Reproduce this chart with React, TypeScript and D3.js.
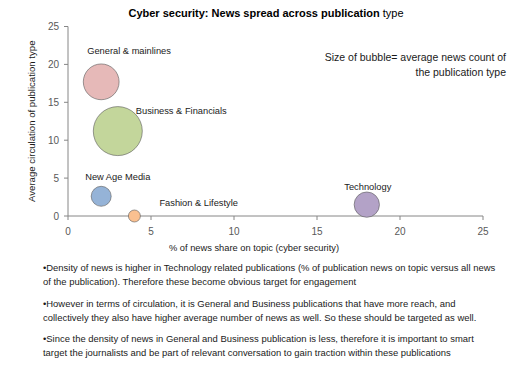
import React from 'react';
import * as d3 from 'd3';

const categories = ['General & mainlines', 'Business & Financials', 'New Age Media', 'Fashion & Lifestyle', 'Technology'];
const newsShare = [2, 3, 2, 4, 18];
const circulation = [17.7, 11.2, 2.6, 0, 1.5];
const newsCount = [32, 60, 10, 3.6, 16];
const xTicks = [0, 5, 10, 15, 20, 25];
const yTicks = [0, 5, 10, 15, 20, 25];

const bulletLines = [
  ['•Density of news is higher in Technology related publications (% of publication news on topic versus all news',
    'of the publication). Therefore these become obvious target for engagement'],
  ['•However  in terms of circulation, it is General and Business publications that have more reach,  and',
    'collectively they also have higher average number of news as well. So these should be targeted as well.'],
  ['•Since the density of news in General and Business publication is less, therefore it is important to smart',
    'target the journalists and be part of relevant conversation to gain traction within these publications'],
];

const COLORS = ['#e6b9b8', '#c3d69b', '#95b3d7', '#fac090', '#b3a2c7'];
// label placement relative to bubble centre (manually nudged, like the original)
const LABEL_OFFSET = [[-14, -28], [18, -17], [-16, -16], [25, -10], [1, -15]];
const LABEL_ANCHOR = ['start', 'start', 'start', 'start', 'middle'];

const FONT = 'Liberation Sans, Arial, sans-serif';

const App = () => {
  const width = 522;
  const height = 391;
  const margin = { top: 26.5, right: 39, bottom: 175, left: 68 };

  const x = d3.scaleLinear().domain([0, 25]).range([margin.left, width - margin.right]);
  const y = d3.scaleLinear().domain([0, 25]).range([height - margin.bottom, margin.top]);
  const r = d3.scaleSqrt().domain([0, d3.max(newsCount) as number]).range([0, 24.5]);

  const axisColor = '#868686';
  const tickColor = '#595959';
  const textColor = '#1a1a1a';

  return (
    <div style={{ position: 'absolute', left: 0, top: 0 }}>
      <svg width={width} height={height} style={{ display: 'block', background: '#fff' }} fontFamily={FONT}>
        <text x={266} y={17} textAnchor="middle" fontSize={11} fill="#000">
          <tspan fontWeight="bold">Cyber security: News spread across publication</tspan>
          <tspan> type</tspan>
        </text>

        {/* y axis */}
        <line x1={x(0)} x2={x(0)} y1={y(25)} y2={y(0)} stroke={axisColor} strokeWidth={1} />
        {yTicks.map(t => (
          <g key={'y' + t}>
            <line x1={x(0) - 4} x2={x(0)} y1={y(t)} y2={y(t)} stroke={axisColor} />
            <text x={x(0) - 9} y={y(t)} dy="0.35em" textAnchor="end" fontSize={10} fill={tickColor}>{t}</text>
          </g>
        ))}

        {/* x axis */}
        <line x1={x(0)} x2={x(25)} y1={y(0)} y2={y(0)} stroke={axisColor} strokeWidth={1} />
        {xTicks.map(t => (
          <g key={'x' + t}>
            <line x1={x(t)} x2={x(t)} y1={y(0)} y2={y(0) + 4} stroke={axisColor} />
            <text x={x(t)} y={y(0) + 19} textAnchor="middle" fontSize={10} fill={tickColor}>{t}</text>
          </g>
        ))}

        <text x={254} y={251} textAnchor="middle" fontSize={9.3} fill={textColor}>% of news share on topic (cyber security)</text>
        <text transform={`translate(35,${(y(0) + y(25)) / 2}) rotate(-90)`} textAnchor="middle" fontSize={9.6} fill={textColor}>
          Average circulation of publication type
        </text>

        {/* bubbles, largest first */}
        {d3.range(categories.length)
          .sort((a, b) => newsCount[b] - newsCount[a])
          .map(i => (
            <circle key={categories[i]} cx={x(newsShare[i])} cy={y(circulation[i])} r={r(newsCount[i])}
              fill={COLORS[i]} stroke="#595959" strokeWidth={0.6} />
          ))}

        {categories.map((c, i) => (
          <text key={'l' + c} x={x(newsShare[i]) + LABEL_OFFSET[i][0]} y={y(circulation[i]) + LABEL_OFFSET[i][1]}
            textAnchor={LABEL_ANCHOR[i]} fontSize={9.3} fill={textColor}>{c}</text>
        ))}

        <text x={506} y={61} textAnchor="end" fontSize={10.5} fill={textColor}>Size of bubble= average news count of</text>
        <text x={506} y={76} textAnchor="end" fontSize={10.5} fill={textColor}>the publication type</text>

        {bulletLines.map((para, p) => para.map((line, k) => (
          <text key={p + '-' + k} x={43} y={271 + p * 35.5 + k * 14} fontSize={9.45} fill={textColor}>{line}</text>
        )))}
      </svg>
    </div>
  );
};

export default App;
